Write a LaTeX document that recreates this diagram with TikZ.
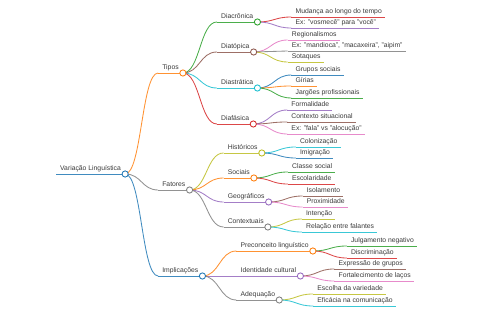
\documentclass[tikz,border=0pt]{standalone}
\usepackage{fontspec}
\setmainfont{Liberation Sans}
\usetikzlibrary{calc}
\definecolor{c0}{HTML}{1F77B4}
\definecolor{c1}{HTML}{FF7F0E}
\definecolor{c2}{HTML}{2CA02C}
\definecolor{c3}{HTML}{D62728}
\definecolor{c4}{HTML}{9467BD}
\definecolor{c5}{HTML}{8C564B}
\definecolor{c6}{HTML}{E377C2}
\definecolor{c7}{HTML}{7F7F7F}
\definecolor{c8}{HTML}{BCBD22}
\definecolor{c9}{HTML}{17BECF}
\definecolor{txt}{HTML}{3A3A3A}
\tikzset{
  lbl/.style={inner sep=0pt, anchor=base west, text=txt, font=\fontsize{6.8}{8}\selectfont},
  ul/.style={line width=0.85pt, draw opacity=0.85},
  link/.style={line width=0.85pt, draw opacity=0.85, to path={let \p1=(\tikztostart), \p2=(\tikztotarget) in .. controls ({0.5*\x1+0.5*\x2},\y1) and ({0.5*\x1+0.5*\x2},\y2) .. (\tikztotarget)}},
  dot/.style={circle, inner sep=0pt, minimum size=6.2pt, line width=0.85pt, draw=#1, fill=white}
}
% internal node: name, parent, line y, colour, text, gap
\newcommand\mmN[6]{%
  \coordinate (#1-s) at ($(#2-c |- 0,#3)+(#6,0)$);
  \node[lbl] (#1) at ($(#1-s)+(4,-3)$) {#5};
  \coordinate (#1-c) at ($(#1.base east |- #1-s)+(4,0)$);
  \draw[ul,#4] (#1-s) -- (#1-c);
  \draw[link,#4] (#2-c) to (#1-s);
}
% leaf node
\newcommand\mmL[5]{%
  \coordinate (#1-s) at ($(#2-c |- 0,#3)+(34,0)$);
  \node[lbl] (#1) at ($(#1-s)+(4,-3)$) {#5};
  \coordinate (#1-e) at ($(#1.base east |- #1-s)+(3,0)$);
  \draw[ul,#4] (#1-s) -- (#1-e);
  \draw[link,#4] (#2-c) to (#1-s);
}
\newcommand\mmdot[2]{\node[dot=#2] (#1-dot) at (#1-c) {};}
\begin{document}
\begin{tikzpicture}[x=1pt,y=-1pt]
\useasboundingbox (0,0) rectangle (480,320);
% root
\coordinate (root-s) at (56,174);
\node[lbl] (root) at ($(root-s)+(4,-3)$) {Variação Linguística};
\coordinate (root-c) at ($(root.base east |- root-s)+(4,0)$);
\draw[ul,c0] (root-s) -- (root-c);
% level 1
\mmN{tipos}{root}{73}{c1}{Tipos}{33}
\mmN{fat}{root}{190}{c7}{Fatores}{33}
\mmN{imp}{root}{276}{c0}{Implicações}{33}
% Tipos
\mmN{dcr}{tipos}{22}{c2}{Diacrônica}{34}
\mmN{dtp}{tipos}{52}{c5}{Diatópica}{34}
\mmN{dst}{tipos}{88}{c9}{Diastrática}{34}
\mmN{dfs}{tipos}{124}{c3}{Diafásica}{34}
\mmL{mud}{dcr}{17}{c3}{Mudança ao longo do tempo}
\mmL{vos}{dcr}{28}{c4}{Ex: "vosmecê" para "você"}
\mmL{reg}{dtp}{40}{c6}{Regionalismos}
\mmL{man}{dtp}{51}{c7}{Ex: "mandioca", "macaxeira", "aipim"}
\mmL{sot}{dtp}{62}{c8}{Sotaques}
\mmL{gru}{dst}{75}{c0}{Grupos sociais}
\mmL{gir}{dst}{86}{c1}{Gírias}
\mmL{jar}{dst}{98}{c2}{Jargões profissionais}
\mmL{for}{dfs}{110}{c4}{Formalidade}
\mmL{con}{dfs}{122}{c5}{Contexto situacional}
\mmL{fal}{dfs}{134}{c6}{Ex: "fala" vs "alocução"}
% Fatores
\mmN{his}{fat}{153}{c8}{Históricos}{34}
\mmN{soc}{fat}{178}{c1}{Sociais}{34}
\mmN{geo}{fat}{202}{c4}{Geográficos}{34}
\mmN{ctx}{fat}{227}{c7}{Contextuais}{34}
\mmL{col}{his}{147}{c9}{Colonização}
\mmL{imi}{his}{158}{c0}{Imigração}
\mmL{cla}{soc}{172}{c2}{Classe social}
\mmL{esc}{soc}{184}{c3}{Escolaridade}
\mmL{iso}{geo}{196}{c5}{Isolamento}
\mmL{pro}{geo}{207}{c6}{Proximidade}
\mmL{int}{ctx}{219}{c8}{Intenção}
\mmL{rel}{ctx}{232}{c9}{Relação entre falantes}
% Implicações
\mmN{pre}{imp}{251}{c1}{Preconceito linguístico}{34}
\mmN{ide}{imp}{276}{c4}{Identidade cultural}{34}
\mmN{ade}{imp}{300}{c7}{Adequação}{34}
\mmL{jul}{pre}{246}{c2}{Julgamento negativo}
\mmL{dis}{pre}{258}{c3}{Discriminação}
\mmL{exp}{ide}{269}{c5}{Expressão de grupos}
\mmL{fort}{ide}{281}{c6}{Fortalecimento de laços}
\mmL{esv}{ade}{294}{c8}{Escolha da variedade}
\mmL{efi}{ade}{306}{c9}{Eficácia na comunicação}
% circles
\mmdot{root}{c0}
\mmdot{tipos}{c1}
\mmdot{fat}{c7}
\mmdot{imp}{c0}
\mmdot{dcr}{c2}
\mmdot{dtp}{c5}
\mmdot{dst}{c9}
\mmdot{dfs}{c3}
\mmdot{his}{c8}
\mmdot{soc}{c1}
\mmdot{geo}{c4}
\mmdot{ctx}{c7}
\mmdot{pre}{c1}
\mmdot{ide}{c4}
\mmdot{ade}{c7}
\end{tikzpicture}
\end{document}
